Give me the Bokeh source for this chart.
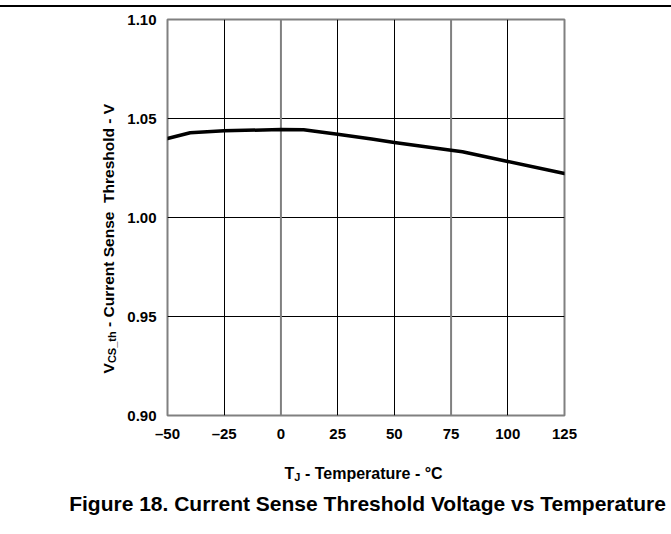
import math
from bokeh.plotting import figure
from bokeh.models import Range1d, FixedTicker, Span, Label, InlineStyleSheet
from bokeh.embed import file_html
from bokeh.resources import INLINE

# ---- data ----
temps = [-50, -40, -25, 0, 10, 25, 40, 50, 75, 80, 100, 125]
vcs_th = [1.0399, 1.0428, 1.0438, 1.0444, 1.0443, 1.0421, 1.0396, 1.0379, 1.0340, 1.0332, 1.0283, 1.0222]

x_ticks = [-50, -25, 0, 25, 50, 75, 100, 125]
x_tick_labels = ["\u201350", "\u201325", "0", "25", "50", "75", "100", "125"]
y_ticks = [0.90, 0.95, 1.00, 1.05, 1.10]
y_tick_labels = ["0.90", "0.95", "1.00", "1.05", "1.10"]
x_grid_black = [-25, 25, 50, 100]
x_grid_gray = [0, 75]
y_grid = [0.95, 1.00, 1.05]

FONT = "Liberation Sans"
NB = "\u00a0"

FRAME_W, FRAME_H = 397, 396
LEFT, TOP = 167, 19
W, H = 671, 534

p = figure(width=W, height=H, output_backend="svg", toolbar_location=None,
           x_range=Range1d(-50, 125), y_range=Range1d(0.90, 1.10),
           frame_width=FRAME_W, frame_height=FRAME_H,
           min_border_left=LEFT, min_border_top=TOP,
           min_border_right=W - LEFT - FRAME_W, min_border_bottom=H - TOP - FRAME_H)
p.background_fill_color = "white"
p.border_fill_color = "white"
p.outline_line_color = "#808080"
p.outline_line_width = 2

# page separator line at the very top
p.stylesheets = [InlineStyleSheet(css=(
    ":host { position: relative; }"
    ":host::before { content: ''; position: absolute; top: 5px; left: 0px; "
    "width: 671px; height: 2px; background: black; z-index: 10; }"))]

# axes
for ax in (p.xaxis[0], p.yaxis[0]):
    ax.axis_line_color = None
    ax.major_tick_line_color = None
    ax.minor_tick_line_color = None
    ax.major_tick_out = 0
    ax.major_tick_in = 0
    ax.major_label_text_font = FONT
    ax.major_label_text_font_style = "bold"
    ax.major_label_text_font_size = "15px"
    ax.major_label_text_color = "black"
p.xaxis.ticker = FixedTicker(ticks=x_ticks)
p.xaxis.major_label_overrides = {t: l for t, l in zip(x_ticks, x_tick_labels)}
p.xaxis.major_label_standoff = 9
p.yaxis.ticker = FixedTicker(ticks=y_ticks)
p.yaxis.major_label_overrides = {t: l for t, l in zip(y_ticks, y_tick_labels)}
p.yaxis.major_label_standoff = 11

# grid
p.xgrid.ticker = FixedTicker(ticks=x_grid_black)
p.xgrid.grid_line_color = "black"
p.xgrid.grid_line_width = 1
p.ygrid.ticker = FixedTicker(ticks=y_grid)
p.ygrid.grid_line_color = "black"
p.ygrid.grid_line_width = 1
for gx in x_grid_gray:
    p.add_layout(Span(location=gx, dimension="height", line_color="#808080",
                      line_width=2, level="underlay"))

# curve
p.line(temps, vcs_th, line_color="black", line_width=3.5, line_join="round", line_cap="round")

# helpers page px -> data
SX = FRAME_W / 175.0
SY = FRAME_H / 0.2
PX0 = LEFT
PY0 = TOP + FRAME_H


def dx(px):
    return -50 + (px - PX0) / SX


def dy(py):
    return 0.90 + (PY0 - py) / SY


def lab(x, y, text, size, side, angle=0.0, align="left"):
    p.add_layout(Label(x=dx(x), y=dy(y), text=text, text_font=FONT, text_font_style="bold",
                       text_font_size=size, text_color="black", angle=angle,
                       text_align=align, text_baseline="alphabetic"), side)


# x axis label: T_J - Temperature - °C
xs = 284
lab(xs, 473, "T", "16px", "below")
lab(xs + 9.8, 476, "J", "11px", "below")
lab(xs + 9.8 + 6.2, 473, NB + "-" + NB + "Temperature" + NB + "-" + NB + "\u00b0C", "16px", "below")

# y axis label: V_CS_th - Current Sense  Threshold - V (rotated)
ys = 373
bx = 108
lab(bx, ys, "V", "15.5px", "left", angle=math.pi / 2)
lab(bx + 3.5, ys - 10.4, "CS_th", "11px", "left", angle=math.pi / 2)
lab(bx, ys - 10.4 - 31.8,
    NB + "-" + NB + "Current" + NB + "Sense" + NB + NB + "Threshold" + NB + "-" + NB + "V",
    "15.5px", "left", angle=math.pi / 2)

# caption
p.add_layout(Label(x=dx(367), y=dy(503), text="Figure 18. Current Sense Threshold Voltage vs Temperature",
                   text_font=FONT, text_font_style="bold", text_font_size="21px",
                   text_color="black", text_align="center", text_baseline="alphabetic"), "below")

open("out.html", "w").write(file_html(p, INLINE))
